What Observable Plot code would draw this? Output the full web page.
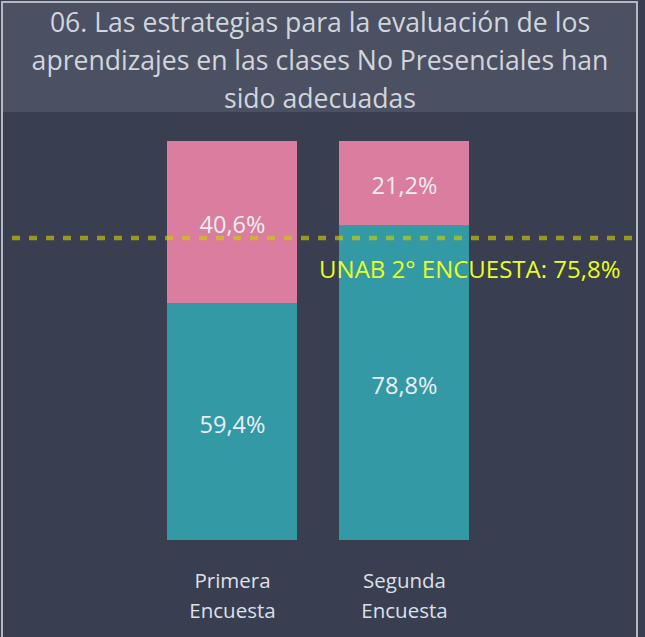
<!DOCTYPE html>
<html>
<head>
<meta charset="utf-8">
<script src="https://cdn.jsdelivr.net/npm/d3@7"></script>
<script src="https://cdn.jsdelivr.net/npm/@observablehq/plot@0.6"></script>
<style>
  html, body { margin: 0; padding: 0; background: #393e50; width: 645px; height: 637px; overflow: hidden; }
  #frame { position: absolute; left: 1px; top: 1px; width: 633px; height: 640px; border: 2px solid #b4b8c1; border-bottom: none; pointer-events: none; z-index: 2; }
  #title { position: absolute; left: 3px; top: 3px; width: 634px; height: 109px; background: #4b5163; color: #d2d5dc;
           font-family: "Open Sans", "Noto Sans", sans-serif; font-size: 26.6px; line-height: 38px; text-align: center; padding-top: 0px; box-sizing: border-box; white-space: nowrap; }
  #chart { position: absolute; left: 0; top: 112px; }
</style>
</head>
<body>
<div id="frame"></div>
<div id="title">06. Las estrategias para la evaluación de los<br>aprendizajes en las clases No Presenciales han<br>sido adecuadas</div>
<div id="chart"></div>
<script>
const categories = ["Primera Encuesta", "Segunda Encuesta"];
const xLabels = ["Primera\nEncuesta", "Segunda\nEncuesta"];
const series = ["De acuerdo", "En desacuerdo"];
const acuerdo = [59.4, 78.8];
const desacuerdo = [40.6, 21.2];
const referenceValue = 75.8;
const referenceLabel = "UNAB 2° ENCUESTA: 75,8%";

const data = [];
categories.forEach((c, i) => data.push({cat: c, series: series[0], value: acuerdo[i]}));
categories.forEach((c, i) => data.push({cat: c, series: series[1], value: desacuerdo[i]}));

const fmt = v => v.toFixed(1).replace(".", ",") + "%";

const chart = Plot.plot({
  width: 645,
  height: 525,
  marginLeft: 125,
  marginRight: 134,
  marginTop: 29,
  marginBottom: 97,
  style: { background: "transparent", fontFamily: "'Open Sans', 'Noto Sans', sans-serif", overflow: "visible" },
  x: { domain: categories, paddingInner: 0.244, paddingOuter: 0.244, label: null },
  y: { domain: [0, 100], axis: null },
  color: { domain: series, range: ["#339aa5", "#db7d9e"] },
  marks: [
    Plot.barY(data, Plot.stackY({x: "cat", y: "value", fill: "series", order: series})),
    Plot.textY(data, Plot.stackY({x: "cat", y: "value", z: "series", order: series, text: d => fmt(d.value),
      fill: "#eceef3", fontSize: 23.5, dy: 3})),
    Plot.ruleY([referenceValue], {stroke: "#cccc00", strokeOpacity: 0.65, strokeWidth: 4.5, strokeDasharray: "8,9",
      insetLeft: -113, insetRight: -121}),
    Plot.text([referenceLabel], {frameAnchor: "right", y: () => referenceValue, text: d => d, textAnchor: "end",
      dx: 109, dy: 32, fill: "#eaff1a", fontSize: 24}),
    Plot.axisX({tickSize: 0, tickPadding: 26, fontSize: 20.5, lineHeight: 1.47, fill: "#dde0e8",
      tickFormat: d => xLabels[categories.indexOf(d)], label: null})
  ]
});
document.getElementById("chart").appendChild(chart);
</script>
</body>
</html>
